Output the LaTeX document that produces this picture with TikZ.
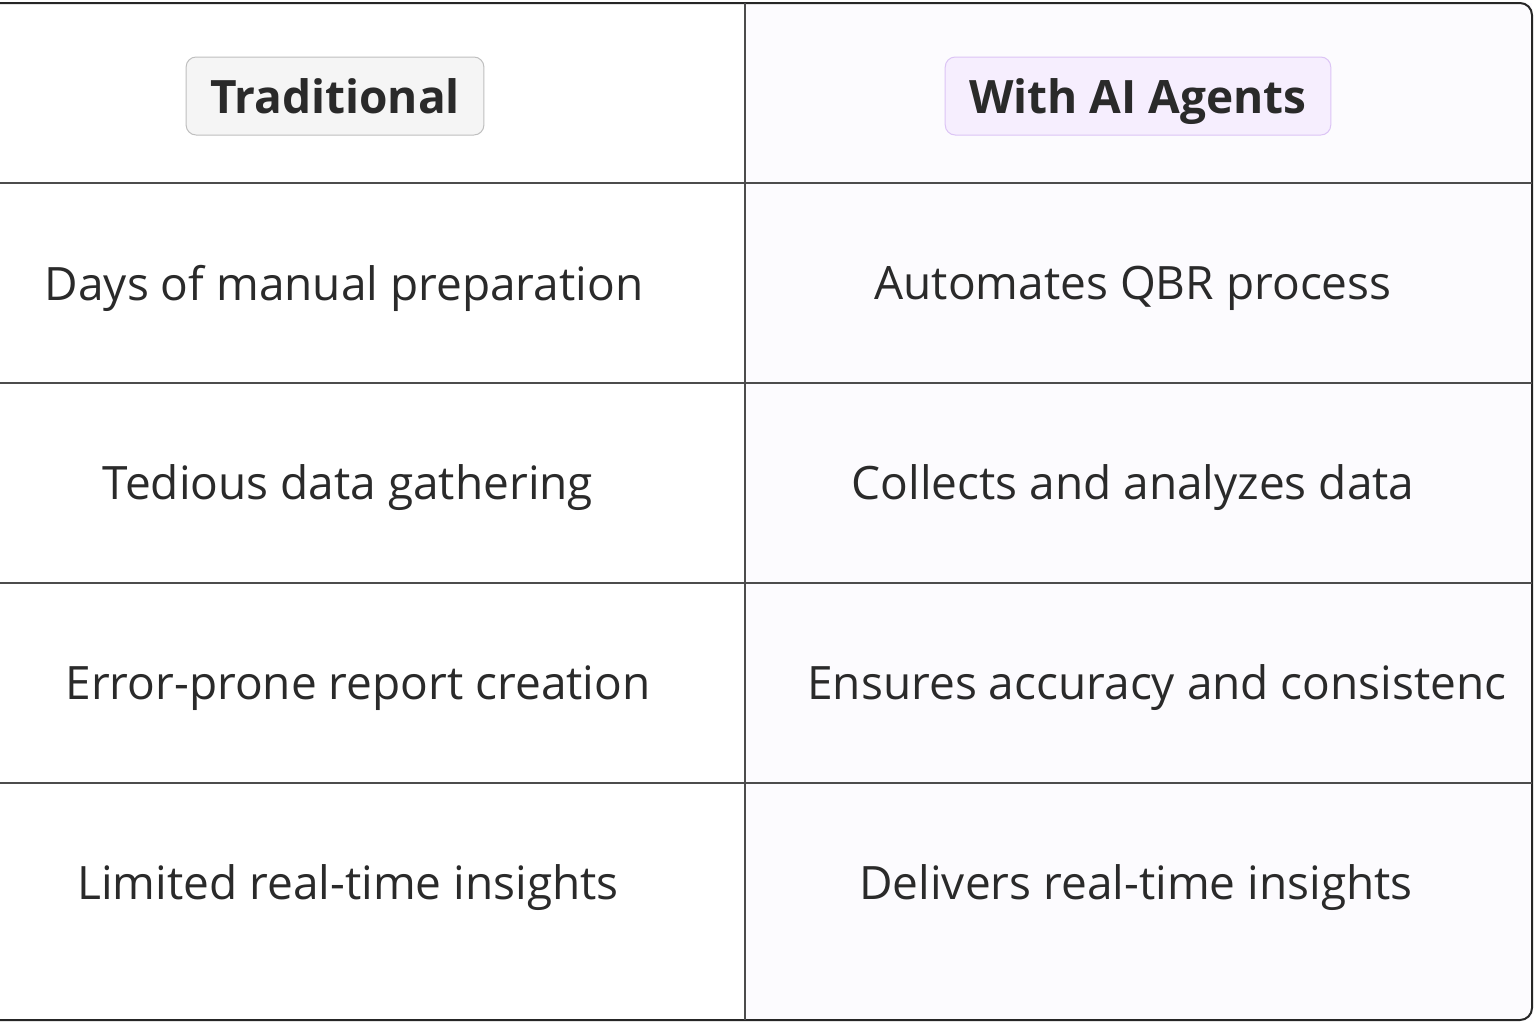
\documentclass[tikz,border=0pt]{standalone}
\usepackage{fontspec}
\setmainfont{Open Sans}
\definecolor{ink}{HTML}{2A2A2A}
\definecolor{lav}{HTML}{FCFBFE}
\definecolor{pfill}{HTML}{F6EEFE}
\definecolor{pdraw}{HTML}{DCC4F5}
\begin{document}
\begin{tikzpicture}[x=0.5pt,y=-0.5pt,
  cell/.style={text=ink,font=\fontsize{23}{26}\selectfont},
  hdr/.style={rounded corners=5pt,inner xsep=12pt,minimum height=39pt,text height=19.5pt,text depth=2.5pt,font=\fontsize{23}{26}\selectfont\bfseries,text=ink,line width=0.5pt},
  grid/.style={draw=black!70,line width=0.6pt}]
\useasboundingbox (0,0) rectangle (1536,1024);
\fill[white] (0,0) rectangle (1536,1024);
\fill[lav] (745,3) rectangle (1532,1020);
\draw[black!85,line width=1pt,rounded corners=6pt] (-10,3) -- (1532,3) -- (1532,1020) -- (-10,1020);
\foreach \y in {183,383,583,783} \draw[grid] (0,\y) -- (1532,\y);
\draw[grid] (745,3) -- (745,1020);
\node[hdr,draw=black!25,fill=black!4] (h1) at (335,96) {Traditional};
\node[hdr,draw=pdraw,fill=pfill] (h2) at (1138,96) {With AI Agents};
\node[cell] (l1) at (344,288) {Days of manual preparation};
\node[cell] (l2) at (348,488) {Tedious data gathering};
\node[cell] (l3) at (358,688) {Error-prone report creation};
\node[cell] (l4) at (348,888) {Limited real-time insights};
\node[cell] (r1) at (1133,288) {Automates QBR process};
\node[cell] (r2) at (1133,488) {Collects and analyzes data};
\node[cell] (r3) at (1157,688) {Ensures accuracy and consistenc};
\node[cell] (r4) at (1136,888) {Delivers real-time insights};
\end{tikzpicture}
\end{document}
